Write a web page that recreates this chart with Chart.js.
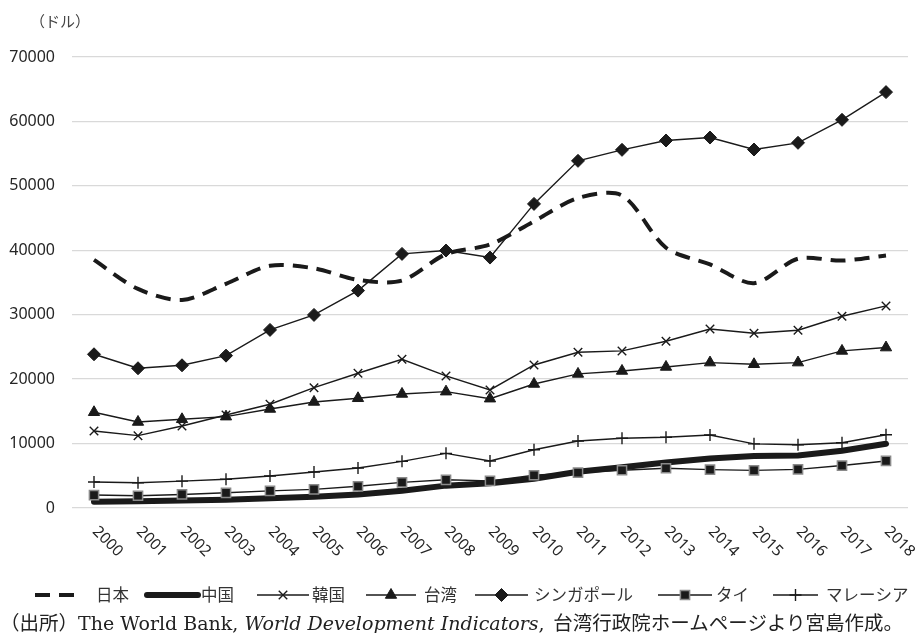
<!DOCTYPE html>
<html lang="ja">
<head>
<meta charset="utf-8">
<script src="https://cdn.jsdelivr.net/npm/chart.js@4/dist/chart.umd.min.js"></script>
<style>
  body { margin: 0; background: #fff; }
  #wrap { position: relative; width: 919px; height: 633px; }
  #unit { position: absolute; left: 30px; top: 10px; font: 15px "Noto Sans CJK JP", sans-serif; color: #444; }
  #source { position: absolute; left: 0px; top: 607px; white-space: nowrap;
    font: 19.5px "Noto Sans CJK JP", serif; color: #222; }
  #source .lat { font-family: "DejaVu Serif", "Liberation Serif", serif; font-size: 19px; }
</style>
</head>
<body>
<div id="wrap">
  <canvas id="myChart" width="919" height="633"></canvas>
  <div id="unit">（ドル）</div>
  <div id="source">（出所）<span class="lat">The World Bank, <i>World Development Indicators</i>,</span>&nbsp; 台湾行政院ホームページより宮島作成。</div>
</div>
<script>
// Jahre und Werte (US-Dollar je Einwohner)
const years = ['2000','2001','2002','2003','2004','2005','2006','2007','2008','2009',
               '2010','2011','2012','2013','2014','2015','2016','2017','2018'];
const japan     = [38500, 34000, 32300, 34800, 37600, 37200, 35400, 35300, 39400, 40900, 44500, 48100, 48500, 40400, 37800, 34900, 38700, 38400, 39200];
const china     = [960, 1050, 1150, 1290, 1510, 1750, 2100, 2690, 3470, 3830, 4550, 5620, 6320, 7050, 7680, 8070, 8150, 8880, 9980];
const korea     = [11960, 11230, 12730, 14440, 16100, 18680, 20910, 23090, 20500, 18320, 22200, 24170, 24380, 25880, 27790, 27120, 27590, 29760, 31370];
const taiwan    = [14860, 13350, 13770, 14180, 15370, 16460, 17030, 17700, 18060, 16970, 19250, 20810, 21270, 21890, 22570, 22310, 22570, 24380, 24900];
const singapore = [23860, 21690, 22150, 23650, 27640, 29970, 33740, 39440, 39960, 38870, 47200, 53880, 55590, 57040, 57500, 55640, 56680, 60250, 64550];
const thailand  = [2010, 1900, 2100, 2360, 2660, 2890, 3370, 3970, 4380, 4210, 5080, 5490, 5860, 6170, 5950, 5840, 5990, 6590, 7300];
const malaysia  = [4040, 3910, 4170, 4460, 4960, 5590, 6210, 7240, 8480, 7290, 9040, 10400, 10820, 10970, 11320, 9960, 9820, 10120, 11370];
const yTicks    = [0, 10000, 20000, 30000, 40000, 50000, 60000, 70000];

const ink = '#1a1a1a';
const ctx = document.getElementById('myChart').getContext('2d');

// Serien mit Legenden-Stil
const series = [
    { label: '日本', data: japan, borderDash: [15, 9], borderWidth: 4, pointRadius: 0, tension: 0.3, order: 2 },
    { label: '中国', data: china, borderWidth: 6, pointRadius: 0, order: 9, borderCapStyle: 'round' },
    { label: '韓国', data: korea, borderWidth: 1.4, pointStyle: 'crossRot', pointRadius: 6, pointBorderWidth: 1.4, order: 3 },
    { label: '台湾', data: taiwan, borderWidth: 1.4, pointStyle: 'triangle', pointRadius: 6.5, pointBorderWidth: 1, order: 4 },
    { label: 'シンガポール', data: singapore, borderWidth: 1.4, pointStyle: 'rectRot', pointRadius: 6.5, pointBorderWidth: 1, order: 1 },
    { label: 'タイ', data: thailand, borderWidth: 1.4, pointStyle: 'rect', pointRadius: 6.5, pointBorderWidth: 1.5, pointBorderColor: '#8a8a8a', order: 5 },
    { label: 'マレーシア', data: malaysia, borderWidth: 1.4, pointStyle: 'cross', pointRadius: 6, pointBorderWidth: 1.4, order: 6 }
];

// Position der Legende (x: Linie von/bis, Text)
const legendPos = [
    { x0: 35, x1: 78, tx: 96 },
    { x0: 147, x1: 198, tx: 201 },
    { x0: 257, x1: 309, tx: 312 },
    { x0: 366, x1: 416, tx: 424 },
    { x0: 475, x1: 528, tx: 534 },
    { x0: 658, x1: 712, tx: 716 },
    { x0: 773, x1: 818, tx: 826 }
];

// Plugin: gedrehte Jahreszahlen und Legende zeichnen
const extras = {
    id: 'extras',
    afterDraw(chart) {
        const c = chart.ctx;
        const xs = chart.scales.x;
        c.save();
        c.fillStyle = '#262626';
        c.font = '15.5px "Noto Sans", sans-serif';
        c.textAlign = 'left';
        c.textBaseline = 'middle';
        years.forEach((y, i) => {
            const px = xs.getPixelForValue(i);
            c.save();
            c.translate(px + 1, 529);
            c.rotate(Math.PI / 4);
            c.fillText(y, 0, 0);
            c.restore();
        });
        c.restore();

        const ly = 595;
        series.forEach((s, i) => {
            const p = legendPos[i];
            c.save();
            c.strokeStyle = ink;
            c.lineWidth = s.borderWidth;
            c.lineCap = s.borderCapStyle || 'butt';
            if (s.borderDash) c.setLineDash(s.borderDash);
            c.beginPath();
            c.moveTo(p.x0, ly);
            c.lineTo(p.x1, ly);
            c.stroke();
            c.setLineDash([]);
            if (s.pointRadius) {
                c.fillStyle = ink;
                c.strokeStyle = s.pointBorderColor || ink;
                c.lineWidth = s.pointBorderWidth;
                Chart.helpers.drawPoint(c, { pointStyle: s.pointStyle, radius: s.pointRadius, borderWidth: s.pointBorderWidth, rotation: 0 }, (p.x0 + p.x1) / 2, ly);
            }
            c.fillStyle = '#333';
            c.font = '16.5px "Noto Sans CJK JP", sans-serif';
            c.textAlign = 'left';
            c.textBaseline = 'middle';
            c.fillText(s.label, p.tx, ly);
            c.restore();
        });
    }
};

const myChart = new Chart(ctx, {
    type: 'line',
    data: {
        labels: years,
        datasets: series.map(s => ({
            label: s.label,
            data: s.data,
            borderColor: ink,
            backgroundColor: ink,
            borderWidth: s.borderWidth,
            borderDash: s.borderDash || [],
            borderCapStyle: s.borderCapStyle || 'butt',
            pointStyle: s.pointStyle || 'circle',
            pointRadius: s.pointRadius,
            pointBorderWidth: s.pointBorderWidth || 1,
            pointBorderColor: s.pointBorderColor || ink,
            pointBackgroundColor: ink,
            tension: s.tension || 0,
            order: s.order
        }))
    },
    options: {
        responsive: false,
        animation: false,
        layout: { padding: { top: 57, right: 11, left: 0, bottom: 0 } },
        plugins: { legend: { display: false }, tooltip: { enabled: false } },
        scales: {
            x: {
                offset: true,
                grid: { display: false },
                border: { display: false },
                ticks: { display: false },
                afterFit(scale) { scale.height = 125; }
            },
            y: {
                min: 0,
                max: 70000,
                afterBuildTicks(scale) { scale.ticks = yTicks.map(v => ({ value: v })); },
                afterFit(scale) { scale.width = 72; },
                grid: { color: '#d9d9d9', lineWidth: 1.3, drawTicks: false },
                border: { display: false },
                ticks: {
                    padding: 17, color: '#262626', font: { family: 'Noto Sans', size: 16 },
                    callback: v => String(v)
                }
            }
        }
    },
    plugins: [extras]
});
</script>
</body>
</html>
